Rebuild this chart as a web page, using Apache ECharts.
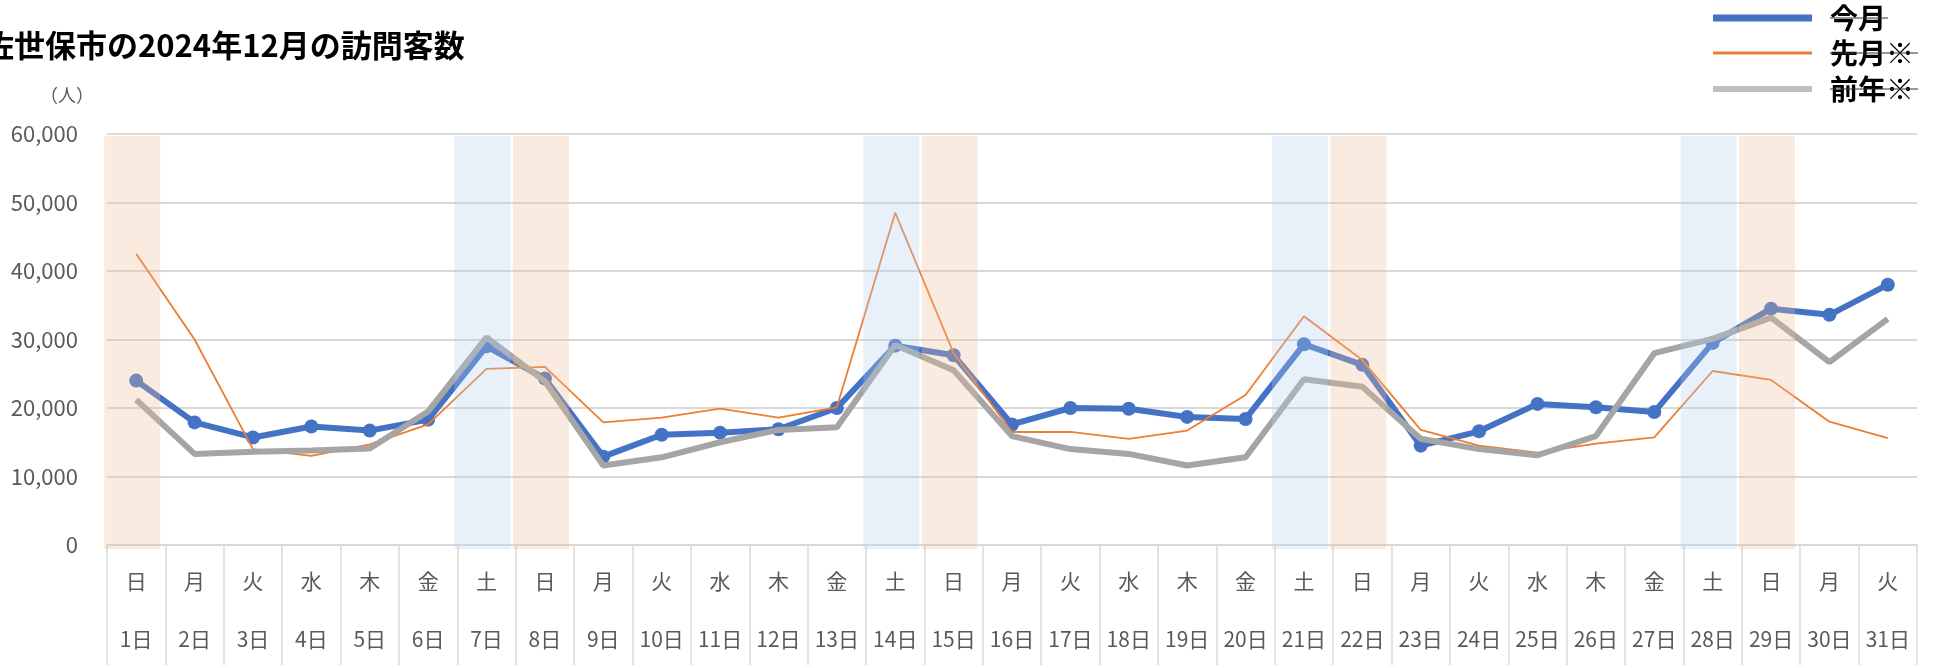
<!DOCTYPE html>
<html>
<head>
<meta charset="utf-8">
<script src="https://cdn.jsdelivr.net/npm/echarts@6/dist/echarts.min.js"></script>
<style>
html,body{margin:0;padding:0;background:#fff;}
#c{width:1939px;height:668px;}
</style>
</head>
<body>
<div id="c"></div>
<script>
const days = ['1日','2日','3日','4日','5日','6日','7日','8日','9日','10日','11日','12日','13日','14日','15日','16日','17日','18日','19日','20日','21日','22日','23日','24日','25日','26日','27日','28日','29日','30日','31日'];
const weekdays = ['日','月','火','水','木','金','土','日','月','火','水','木','金','土','日','月','火','水','木','金','土','日','月','火','水','木','金','土','日','月','火'];
const thisMonth = [24000,17900,15700,17300,16700,18300,29000,24300,12900,16100,16400,16900,20000,29100,27700,17600,20000,19900,18700,18400,29300,26300,14500,16600,20600,20100,19400,29500,34500,33600,38000];
const lastMonth = [42500,30000,14000,13000,14700,17600,25700,26000,17900,18600,19900,18600,20100,48500,28000,16500,16500,15500,16700,21900,33400,27000,16800,14500,13500,14800,15700,25400,24100,18000,15600];
const lastYear = [21200,13300,13600,13800,14100,19500,30300,23900,11600,12800,15000,16800,17200,29200,25500,15900,14000,13300,11600,12800,24200,23100,15500,14000,13100,15900,28000,30100,33200,26700,33000];
const yMax = 60000;
const yStep = 10000;
const seriesNames = ['今月','先月※','前年※'];

const FONT = "'Noto Sans CJK JP', 'Noto Sans', sans-serif";
const chart = echarts.init(document.getElementById('c'));

const bandData = weekdays.map(w => {
  if (w === '日') return {value: yMax, itemStyle: {color: 'rgba(240,190,152,0.30)'}};
  if (w === '土') return {value: yMax, itemStyle: {color: 'rgba(178,206,236,0.30)'}};
  return '-';
});

const legendBase = {
  left: 1713, orient: 'vertical', padding: 0, itemWidth: 99, icon: 'rect',
  textStyle: {fontSize: 28, fontWeight: 'bold', color: '#000', fontFamily: FONT, padding: [0,0,0,13]}
};

// thin strike lines seen through the legend labels in the reference
const strikes = [[18, 58], [53, 88], [89, 88]].map(([y, w]) => ({
  type: 'line', z: 100,
  shape: {x1: 1830, y1: y, x2: 1830 + w, y2: y},
  style: {stroke: '#333', lineWidth: 1.2}
}));

chart.setOption({
  animation: false,
  textStyle: {fontFamily: FONT},
  title: {
    text: '佐世保市の2024年12月の訪問客数',
    left: -17, top: 30, padding: 0,
    textStyle: {fontSize: 31, fontWeight: 'bold', color: '#000', fontFamily: FONT}
  },
  graphic: [{
    type: 'text', left: 40, top: 86,
    style: {text: '（人）', fontSize: 18, fill: '#595959', fontFamily: FONT}
  }].concat(strikes),
  legend: [
    Object.assign({}, legendBase, {top: 4, itemHeight: 7, data: [{name: seriesNames[0], itemStyle: {color: '#4472C4'}}]}),
    Object.assign({}, legendBase, {top: 39, itemHeight: 3, data: [{name: seriesNames[1], itemStyle: {color: '#ED7D31'}}]}),
    Object.assign({}, legendBase, {top: 75, itemHeight: 6, data: [{name: seriesNames[2], itemStyle: {color: '#BFBFBF'}}]})
  ],
  grid: [
    {left: 107, right: 22, top: 134, bottom: 116, containLabel: false},
    {left: 103, right: 26, top: 136, bottom: 119, containLabel: false}
  ],
  xAxis: [{
    type: 'category', gridIndex: 0,
    data: days.map((d, i) => weekdays[i] + '\n' + d),
    boundaryGap: true,
    axisLine: {show: true, lineStyle: {color: '#D9D9D9', width: 2}},
    axisTick: {show: true, interval: 0, length: 120, lineStyle: {color: '#D9D9D9', width: 1.5}},
    axisLabel: {interval: 0, margin: 7, fontSize: 21, color: '#595959', lineHeight: 58, fontFamily: FONT}
  }, {
    type: 'category', gridIndex: 1, data: days, boundaryGap: true, show: false
  }],
  yAxis: [{
    type: 'value', gridIndex: 0, min: 0, max: yMax, interval: yStep,
    axisLine: {show: false}, axisTick: {show: false},
    axisLabel: {margin: 29, fontSize: 22, color: '#595959', fontFamily: FONT,
      formatter: v => v.toLocaleString('en-US')},
    splitLine: {lineStyle: {color: '#D9D9D9', width: 2}}
  }, {
    type: 'value', gridIndex: 1, min: 0, max: yMax, show: false, splitLine: {show: false}
  }],
  series: [
    {
      name: seriesNames[0], type: 'line', data: thisMonth, z: 2,
      symbol: 'circle', symbolSize: 14, showSymbol: true,
      itemStyle: {color: '#4472C4'},
      lineStyle: {color: '#4472C4', width: 6}
    },
    {
      name: seriesNames[1], type: 'line', data: lastMonth, z: 3,
      symbol: 'none',
      itemStyle: {color: '#ED7D31'},
      lineStyle: {color: '#ED7D31', width: 1.8}
    },
    {
      name: seriesNames[2], type: 'line', data: lastYear, z: 4,
      symbol: 'none',
      itemStyle: {color: '#A5A5A5'},
      lineStyle: {color: '#A5A5A5', width: 6}
    },
    {
      name: 'band', type: 'bar', data: bandData, z: 10, silent: true,
      xAxisIndex: 1, yAxisIndex: 1,
      barWidth: '96%'
    }
  ]
});
</script>
</body>
</html>
